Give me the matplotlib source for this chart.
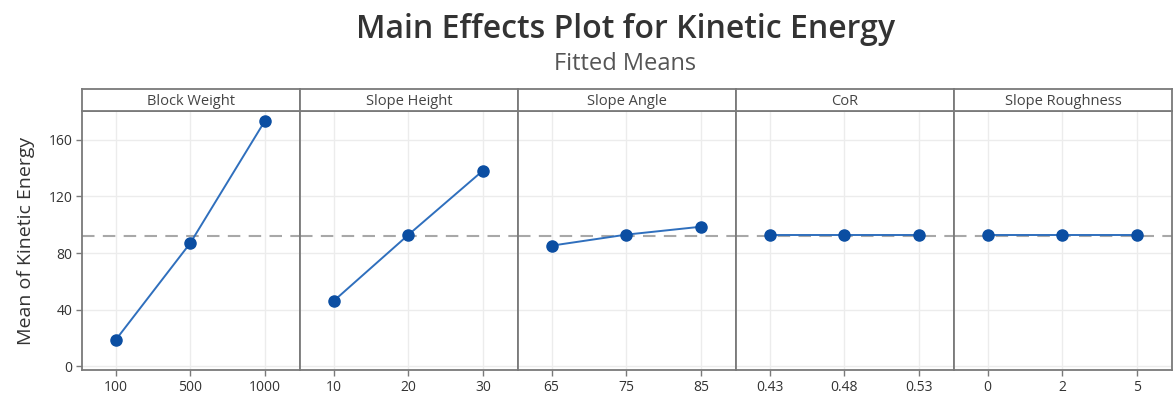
import numpy as np
import matplotlib
matplotlib.use("Agg")
import matplotlib.pyplot as plt

plt.rcParams['font.family'] = ['Open Sans', 'DejaVu Sans']

# factor names and levels
factors = ["Block Weight", "Slope Height", "Slope Angle", "CoR", "Slope Roughness"]
levels = [
    ["100", "500", "1000"],
    ["10", "20", "30"],
    ["65", "75", "85"],
    ["0.43", "0.48", "0.53"],
    ["0", "2", "5"],
]
# fitted means
means = [
    [18.4, 87.0, 173.5],
    [46.0, 92.8, 138.3],
    [85.2, 93.0, 98.6],
    [93.0, 93.0, 93.0],
    [93.0, 93.0, 93.0],
]
grand_mean = 91.7
yticks = [0, 40, 80, 120, 160]

W, H = 1175, 398
fig = plt.figure(figsize=(W / 100, H / 100), dpi=100)

left, right = 82, 1172
top, bottom = 111, 370
strip_top = 89
pw = (right - left) / len(factors)

frame_col = "#7a7a7a"
line_col = "#2f6fbd"
mark_col = "#0b4ea2"

for i, name in enumerate(factors):
    x0 = left + i * pw
    ax = fig.add_axes([x0 / W, 1 - bottom / H, pw / W, (bottom - top) / H])
    xs = np.arange(len(levels[i]))
    ax.axhline(grand_mean, color="#a8a8a8", lw=1.5, ls=(0, (6, 4)), zorder=1)
    ax.plot(xs, means[i], color=line_col, lw=1.4, zorder=3)
    ax.plot(xs, means[i], "o", color=mark_col, ms=8, zorder=4)
    ax.set_xlim(-0.45, 2.47)
    ax.set_ylim(-2.8, 180.5)
    ax.set_xticks(xs)
    ax.set_xticklabels(levels[i], fontsize=10, color="#333333")
    ax.set_yticks(yticks)
    ax.grid(True, color="#ececec", lw=1)
    ax.set_axisbelow(True)
    ax.tick_params(axis="both", length=4, width=1, color=frame_col, pad=3)
    if i == 0:
        ax.set_yticklabels([str(v) for v in yticks], fontsize=10, color="#333333")
        ax.set_ylabel("Mean of Kinetic Energy", fontsize=14, color="#333333", labelpad=10)
    else:
        ax.tick_params(axis="y", left=False, labelleft=False)
    for s in ax.spines.values():
        s.set_color(frame_col)
        s.set_linewidth(1.3)

    # header strip
    hx = fig.add_axes([x0 / W, 1 - top / H, pw / W, (top - strip_top) / H])
    hx.set_xticks([])
    hx.set_yticks([])
    for s in hx.spines.values():
        s.set_color(frame_col)
        s.set_linewidth(1.3)
    hx.text(0.5, 0.45, name, ha="center", va="center", fontsize=10.5, color="#444444",
            transform=hx.transAxes)

fig.text(0.532, 1 - 30 / H, "Main Effects Plot for Kinetic Energy", ha="center", va="center",
         fontsize=23, fontweight="semibold", color="#333333")
fig.text(0.532, 1 - 64 / H, "Fitted Means", ha="center", va="center",
         fontsize=17, color="#555555")

fig.savefig("out.png", dpi=100)
